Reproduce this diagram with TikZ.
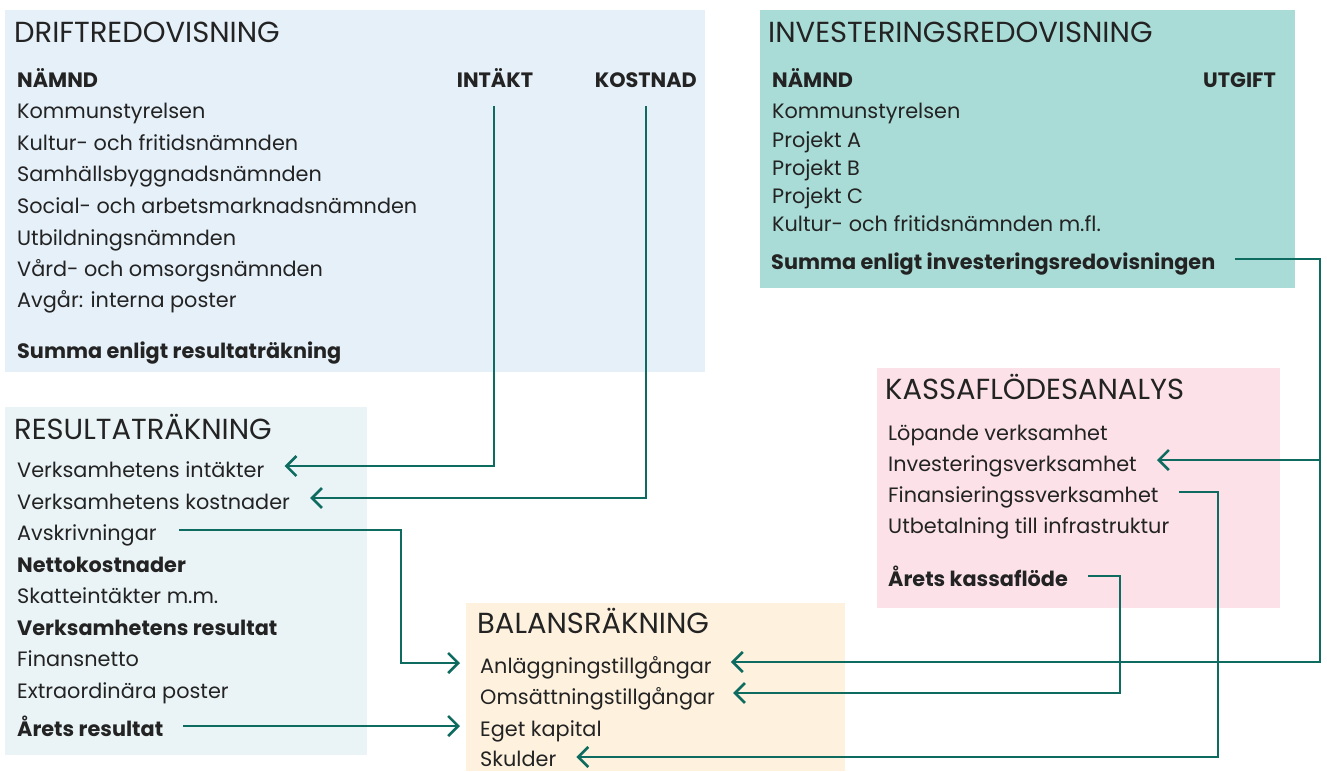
\documentclass[tikz,border=0pt]{standalone}
\usepackage{fontspec}
\setmainfont{Poppins}
\usetikzlibrary{arrows.meta}
\definecolor{ink}{HTML}{232323}
\definecolor{driftbg}{HTML}{E5F0F9}
\definecolor{invbg}{HTML}{A9DCD6}
\definecolor{resbg}{HTML}{EAF4F6}
\definecolor{kassabg}{HTML}{FCE2E8}
\definecolor{balbg}{HTML}{FEF2DF}
\definecolor{conncol}{HTML}{0D6B5F}
\begin{document}
\begin{tikzpicture}[x=1pt,y=-1pt,
  txt/.style={anchor=base west, inner sep=0pt, font=\fontsize{20.8}{24}\selectfont, text=ink},
  bld/.style={anchor=base west, inner sep=0pt, font=\fontsize{20.8}{24}\selectfont\bfseries, text=ink},
  ttl/.style={anchor=base west, inner sep=0pt, font=\fontsize{29}{34}\selectfont, text=ink},
  conn/.style={draw=conncol, line width=2.6pt},
  arr/.style={conn, -{Straight Barb[length=10pt,width=20pt,line width=2.6pt]}}]
\useasboundingbox (0,0) rectangle (1327,771);
% panels
\fill[driftbg] (5,10) rectangle (705,372);
\fill[invbg] (760,10) rectangle (1295,288);
\fill[resbg] (5,407) rectangle (367,755);
\fill[kassabg] (877,368) rectangle (1280,608);
\fill[balbg] (466,603) rectangle (845,771);
% DRIFTREDOVISNING
\node[ttl] (dT) at (14,42) {DRIFTREDOVISNING};
\node[bld] (dN) at (17,87) {NÄMND};
\node[bld, anchor=base] (dI) at (495,87) {INTÄKT};
\node[bld, anchor=base east] (dK) at (697,87) {KOSTNAD};
\node[txt] (d1) at (17,118) {Kommunstyrelsen};
\node[txt] (d2) at (17,150) {Kultur- och fritidsnämnden};
\node[txt] (d3) at (17,181) {Samhällsbyggnadsnämnden};
\node[txt] (d4) at (17,213) {Social- och arbetsmarknadsnämnden};
\node[txt] (d5) at (17,245) {Utbildningsnämnden};
\node[txt] (d6) at (17,276) {Vård- och omsorgsnämnden};
\node[txt] (d7) at (17,307) {Avgår: interna poster};
\node[bld] (dS) at (17,358) {Summa enligt resultaträkning};
% INVESTERINGSREDOVISNING
\node[ttl] (iT) at (768,42) {INVESTERINGSREDOVISNING};
\node[bld] (iN) at (772,87) {NÄMND};
\node[bld, anchor=base east] (iU) at (1276,87) {UTGIFT};
\node[txt] (i1) at (772,118) {Kommunstyrelsen};
\node[txt] (i2) at (772,147) {Projekt A};
\node[txt] (i3) at (772,175) {Projekt B};
\node[txt] (i4) at (772,203) {Projekt C};
\node[txt] (i5) at (772,231) {Kultur- och fritidsnämnden m.fl.};
\node[bld] (iS) at (771,269) {Summa enligt investeringsredovisningen};
% RESULTATRÄKNING
\node[ttl] (rT) at (14,439) {RESULTATRÄKNING};
\node[txt] (r1) at (17,477) {Verksamhetens intäkter};
\node[txt] (r2) at (17,509) {Verksamhetens kostnader};
\node[txt] (r3) at (17,540) {Avskrivningar};
\node[bld] (r4) at (17,572) {Nettokostnader};
\node[txt] (r5) at (17,603) {Skatteintäkter m.m.};
\node[bld] (r6) at (17,635) {Verksamhetens resultat};
\node[txt] (r7) at (17,666) {Finansnetto};
\node[txt] (r8) at (17,698) {Extraordinära poster};
\node[bld] (r9) at (17,736) {Årets resultat};
% KASSAFLÖDESANALYS
\node[ttl] (kT) at (885,399) {KASSAFLÖDESANALYS};
\node[txt] (k1) at (888,440) {Löpande verksamhet};
\node[txt] (k2) at (888,471) {Investeringsverksamhet};
\node[txt] (k3) at (888,502) {Finansieringssverksamhet};
\node[txt] (k4) at (888,533) {Utbetalning till infrastruktur};
\node[bld] (k5) at (888,586) {Årets kassaflöde};
% BALANSRÄKNING
\node[ttl] (bT) at (477,633) {BALANSRÄKNING};
\node[txt] (b1) at (480,673) {Anläggningstillgångar};
\node[txt] (b2) at (480,704) {Omsättningstillgångar};
\node[txt] (b3) at (480,736) {Eget kapital};
\node[txt] (b4) at (480,766) {Skulder};
% helper coordinates
\coordinate (topI) at (494,106);
\coordinate (topK) at (646,106);
\coordinate (vAv) at (401,600);
\coordinate (vInv) at (1320,400);
\coordinate (vFin) at (1218,600);
\coordinate (vKas) at (1120,640);
\coordinate (r1t) at ([xshift=20pt,yshift=11pt]r1.base east);
\coordinate (r2t) at ([xshift=20pt,yshift=11pt]r2.base east);
\coordinate (r3s) at ([xshift=22pt,yshift=10pt]r3.base east);
\coordinate (r9s) at ([xshift=20pt,yshift=10pt]r9.base east);
\coordinate (b1w) at ([xshift=-20pt,yshift=10pt]b1.base west);
\coordinate (b3w) at ([xshift=-20pt,yshift=10pt]b3.base west);
\coordinate (iSs) at ([xshift=19pt,yshift=10pt]iS.base east);
\coordinate (b1t) at ([xshift=19pt,yshift=11pt]b1.base east);
\coordinate (k2t) at ([xshift=20pt,yshift=11pt]k2.base east);
\coordinate (k3s) at ([xshift=20pt,yshift=10pt]k3.base east);
\coordinate (b4t) at ([xshift=20pt,yshift=9pt]b4.base east);
\coordinate (k5s) at ([xshift=20pt,yshift=10pt]k5.base east);
\coordinate (b2t) at ([xshift=18pt,yshift=11pt]b2.base east);
% connectors
\draw[arr] (topI) |- (r1t);
\draw[arr] (topK) |- (r2t);
\draw[arr] (r3s) -| (vAv) |- (b1w);
\draw[arr] (r9s) -- (b3w |- r9s);
\draw[arr] (iSs) -| (vInv) |- (b1t);
\draw[arr] (vInv |- k2t) -- (k2t);
\draw[conn] (k3s) -| (vFin);
\draw[arr] (vFin) |- (b4t);
\draw[conn] (k5s) -| (vKas);
\draw[arr] (vKas) |- (b2t);
\end{tikzpicture}
\end{document}
